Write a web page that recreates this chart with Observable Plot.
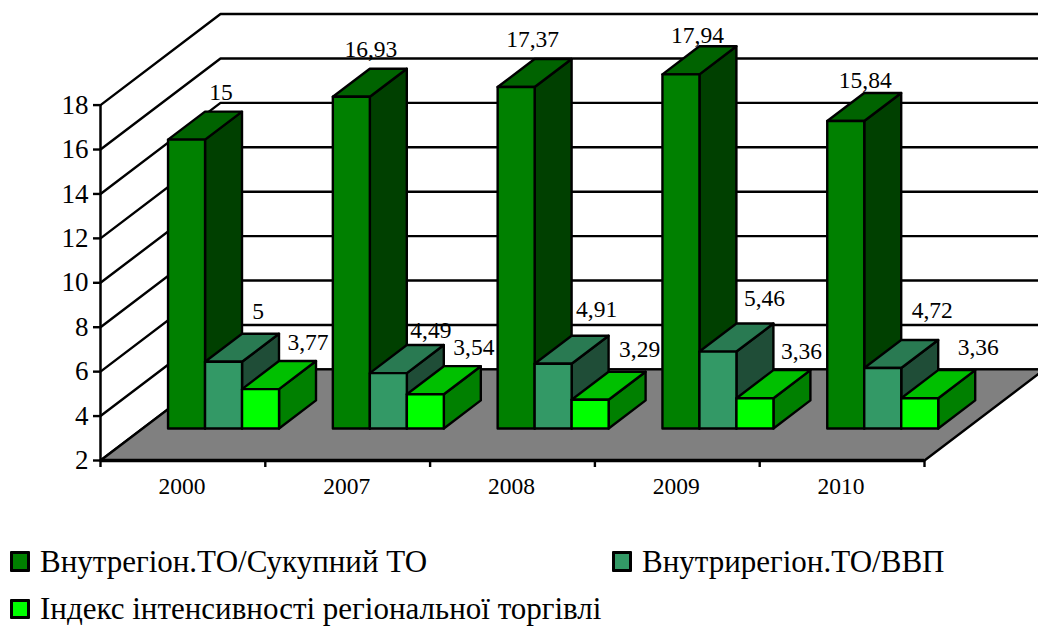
<!DOCTYPE html>
<html><head><meta charset="utf-8">
<script src="https://cdn.jsdelivr.net/npm/d3@7"></script>
<script src="https://cdn.jsdelivr.net/npm/@observablehq/plot@0.6"></script>
<style>
html,body{margin:0;padding:0;background:#fff}
#legend{position:relative;width:1038px;height:108px;font-family:"Liberation Serif",serif;color:#000}
.item{position:absolute;white-space:nowrap;display:flex;align-items:center;font-size:31px;line-height:34px}
.sw{display:inline-block;box-sizing:border-box;width:20px;height:20.5px;border:3px solid #000;border-radius:1px;margin-right:10px}
svg{display:block}
</style></head><body>
<div id="chart"></div><div id="legend"></div>
<script>
const years = ["2000","2007","2008","2009","2010"];
const seriesNames = ["Внутрегіон.ТО/Сукупний ТО","Внутрирегіон.ТО/ВВП","Індекс інтенсивності регіональної торгівлі"];
const totalShare = [15,16.93,17.37,17.94,15.84];
const gdpShare = [5,4.49,4.91,5.46,4.72];
const intensity = [3.77,3.54,3.29,3.36,3.36];
const yTicks = [2,4,6,8,10,12,14,16,18];
// face colours: front, top, side
const palette = [["#008000","#006300","#004000"],["#339966","#297a52","#1f4d37"],["#00ff00","#00c000","#008000"]];
// label nudges relative to each bar's front right top corner
const labelDx = [[16,1,-2,-2,1],[16,24,25,28,31],[29,30,31,28,40]];
const labelDy = [[-47,-47,-48,-39,-41],[-50,-43,-54,-53,-58],[-47,-47,-50,-47,-51]];

const base = 2, W = 1038, H = 520;
const xUnit = 164.8, yUnit = 22.19;
const depthX = 120/xUnit, depthY = 91/yUnit;           // oblique projection of the unit depth
const d0 = 0.352, d1 = 0.66;                           // bar depth span on the floor
const barOff = 25.3/xUnit, barW = 37/xUnit;
const xMax = (W-100)/xUnit;
const P = (c,v,d)=>({x:c+d*depthX, y:v+d*depthY});

const faces = [];
const poly = (id,fill,pts)=>pts.forEach(p=>faces.push({id,fill,...p}));
// floor
const nCat = years.length;
poly("floor","#808080",[P(0,base,0),P(nCat,base,0),P(nCat,base,1),P(0,base,1)]);
const all = [totalShare,gdpShare,intensity];
years.forEach((yr,i)=>{
  all.forEach((vals,s)=>{
    const v = vals[i], l = i+barOff+s*barW, r = l+barW, [f,t,sd]=palette[s], k=`${i}-${s}`;
    poly(k+"s",sd,[P(r,base,d0),P(r,base,d1),P(r,v,d1),P(r,v,d0)]);
    poly(k+"t",t,[P(l,v,d0),P(r,v,d0),P(r,v,d1),P(l,v,d1)]);
    poly(k+"f",f,[P(l,base,d0),P(r,base,d0),P(r,v,d0),P(l,v,d0)]);
  });
});
const grid = yTicks.flatMap(v=>[P(0,v,0),P(0,v,1),P(xMax,v,1)].map(p=>({id:v,...p})));
const labels = all.flatMap((vals,s)=>vals.map((v,i)=>{
  const c = i+barOff+(s+1)*barW;
  return {...P(c,v,d0), text:String(v).replace(".",","), dx:labelDx[s][i], dy:labelDy[s][i]};
}));
const font = "Liberation Serif";
const plot = Plot.plot({
  width:W,height:H,marginLeft:100,marginRight:0,marginTop:13.5,marginBottom:H-460,
  style:{background:"#fff",color:"#000",fontFamily:font},
  x:{type:"linear",domain:[0,xMax],axis:null},
  y:{type:"linear",domain:[base,18+depthY],axis:null},
  color:{type:"identity"},
  marks:[
    Plot.line(grid,{x:"x",y:"y",z:"id",stroke:"#000",strokeWidth:2.4}),
    Plot.line(faces,{x:"x",y:"y",z:"id",fill:"fill",stroke:"#000",strokeWidth:2.4,curve:"linear-closed"}),
    Plot.ruleX([0],{y1:base,y2:18,stroke:"#000",strokeWidth:2.5}),
    Plot.ruleY([base],{x1:0,x2:nCat,stroke:"#000",strokeWidth:3.5}),
    Plot.axisY({ticks:yTicks,tickSize:7,tickPadding:5,label:null,fontSize:27,strokeWidth:2.4,anchor:"left"}),
    Plot.axisX({ticks:d3.range(nCat+1),tickSize:7,fill:"none",label:null,strokeWidth:2.4,anchor:"bottom"}),
    Plot.axisX({ticks:years.map((_,i)=>i+0.5),tickSize:0,tickPadding:17,tickFormat:d=>years[d-0.5],label:null,fontSize:23.5,dx:-1,anchor:"bottom"}),
    ...labels.map(l=>Plot.text([l],{x:"x",y:"y",text:"text",dx:l.dx,dy:l.dy,fontSize:23.5,fill:"#000"}))
  ]
});
document.getElementById("chart").append(plot);
const legendPos = [[10,24.5],[612,24.5],[10,72]];
const lg = document.getElementById("legend");
seriesNames.forEach((n,i)=>{
  const d=document.createElement("div");d.className="item";
  d.style.left=legendPos[i][0]+"px";d.style.top=legendPos[i][1]+"px";
  const s=document.createElement("span");s.className="sw";s.style.background=palette[i][0];
  d.append(s,n);lg.append(d);
});
</script></body></html>
